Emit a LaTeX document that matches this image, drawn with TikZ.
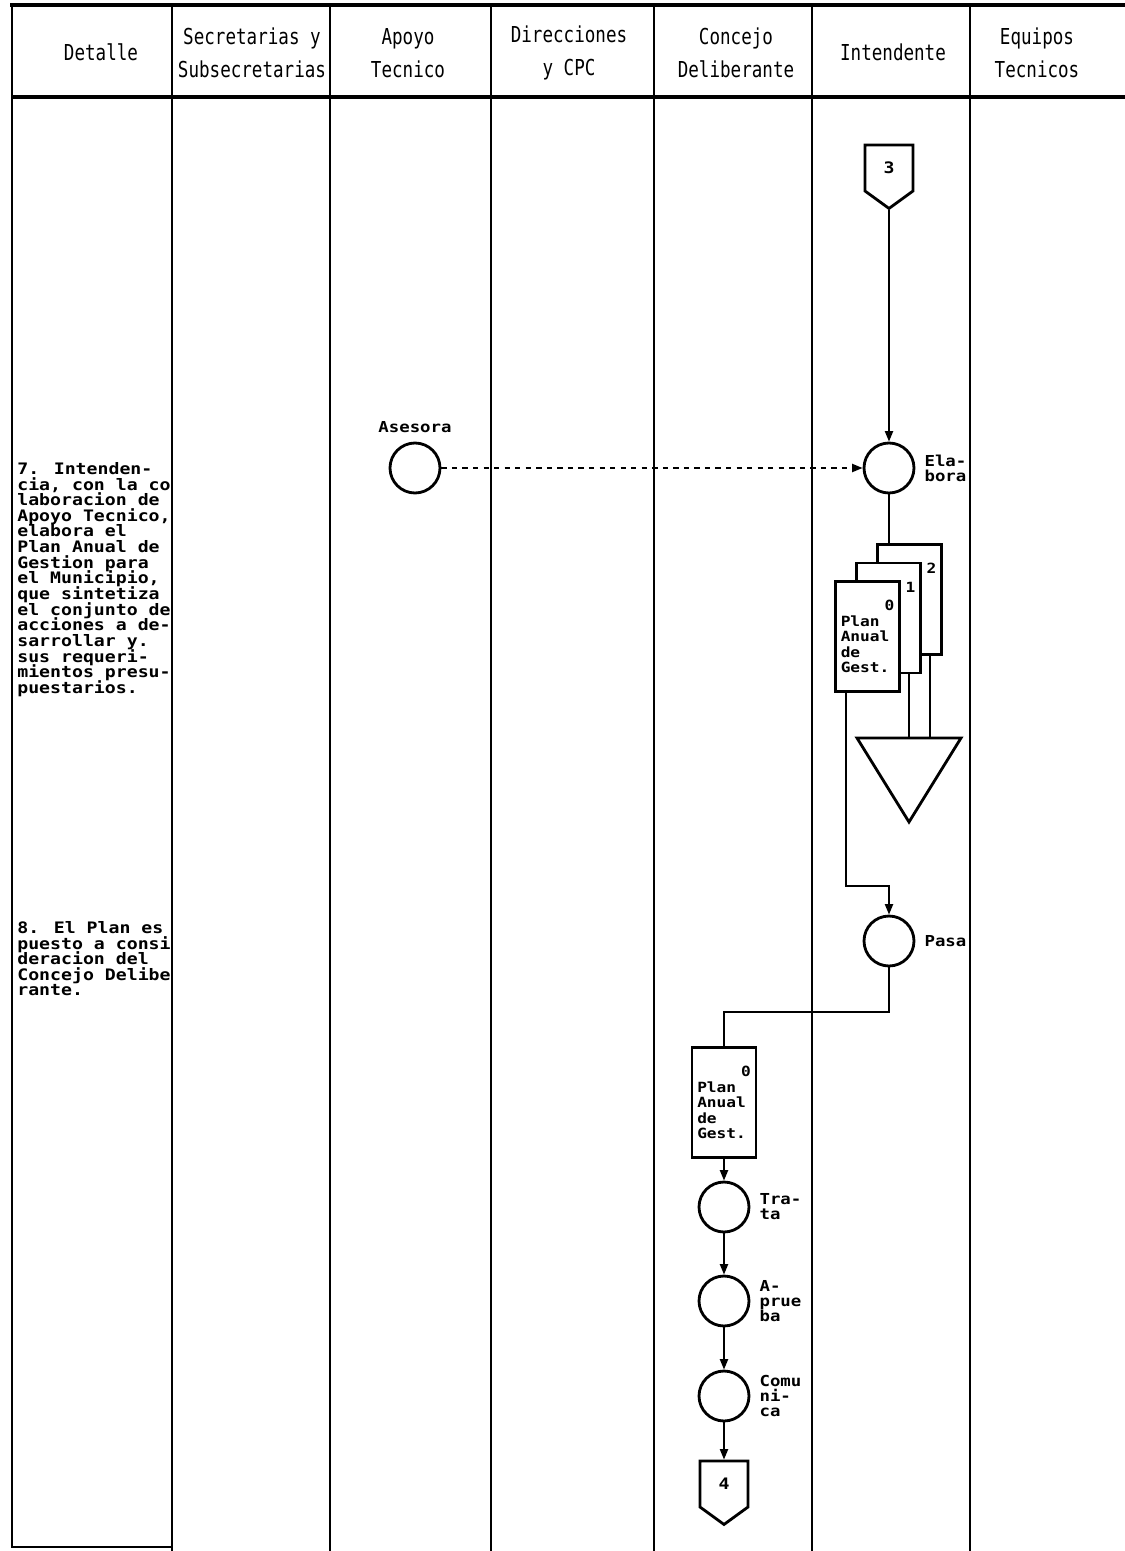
\documentclass[tikz,border=0pt]{standalone}
\usepackage{fontspec}
\usepackage{tikz}
\usetikzlibrary{
	arrows.meta,
	positioning,
	shapes.symbols
}
\newfontfamily\headfont[FakeStretch=0.8]{DejaVu Sans Mono}
\newfontfamily\boxfont[FakeStretch=1.15]{DejaVu Sans Mono}
\newcommand{\docnum}[1]{\hskip0pt plus1fill\relax#1}
\newcommand{\tightlines}{\lineskiplimit=-\maxdimen}

\tikzset{
	lane/.style={line width=1.1pt},
	headrule/.style={line width=1.8pt},
	head/.style={font=\headfont\fontsize{12.5}{19}\selectfont, align=center, inner sep=0pt},
	lbl/.style={font=\boxfont\bfseries\fontsize{8.6}{8.6}\selectfont\tightlines, align=left, inner sep=1pt},
	sidelbl/.style={lbl, xshift=4pt},
	detalle/.style={font=\boxfont\bfseries\fontsize{9}{8.9}\selectfont\tightlines, align=left, inner sep=0pt, anchor=north west},
	proc/.style={circle, draw, line width=1.6pt, minimum size=1.0cm, inner sep=0pt},
	docbox/.style={rectangle, draw, fill=white, line width=1.3pt, minimum height=2.2cm,
		text width=1.07cm, inner xsep=3pt, align=left,
		font=\boxfont\bfseries\fontsize{8}{8.8}\selectfont\tightlines},
	pagecon/.style={signal, signal to=south, signal from=nowhere, signal pointer angle=108, draw,
		line width=1.6pt, minimum width=0.96cm, minimum height=1.0cm, inner sep=0pt,
		font=\boxfont\bfseries\fontsize{9}{9}\selectfont},
	flow/.style={line width=1.1pt, >={Triangle[length=6pt,width=4.6pt]}}
}

\begin{document}
\begin{tikzpicture}[x=0.02cm, y=-0.02cm]
	\useasboundingbox (0,0) rectangle (1125,1551);

	% encabezado y carriles
	\draw[headrule] (10,5) -- (1125,5);
	\draw[headrule] (12,97) -- (1125,97);
	\draw[lane] (12,5) -- (12,1547) -- (172,1547);
	\foreach \x in {172,330,491,654,812,970}
		\draw[lane] (\x,5) -- (\x,1551);

	\node[head] (hDet) at (101,52) {Detalle};
	\node[head] (hSec) at (252,53) {Secretarias y\\Subsecretarias};
	\node[head] (hApo) at (408,53) {Apoyo\\Tecnico};
	\node[head] (hDir) at (569,53) {Direcciones\\y CPC};
	\node[head] (hCon) at (736,53) {Concejo\\Deliberante};
	\node[head] (hInt) at (893,52) {Intendente};
	\node[head] (hEqu) at (1037,53) {Equipos\\Tecnicos};

	% texto de detalle
	\node[detalle] (txtA) at (17,462) {7. Intenden-\\cia, con la co\\laboracion de\\Apoyo Tecnico,\\elabora el\\Plan Anual de\\Gestion para\\el Municipio,\\que sintetiza\\el conjunto de\\acciones a de-\\sarrollar y.\\sus requeri-\\mientos presu-\\puestarios.};
	\node[detalle] (txtB) at (17,921) {8. El Plan es\\puesto a consi\\deracion del\\Concejo Delibe\\rante.};

	% Intendente
	\node[pagecon] (conA) at (889,168) {3};
	\node[proc, label={[sidelbl]right:{Ela-\\bora}}] (elabora) at (889,468) {};
	\node[proc, label={[lbl, yshift=4pt]above:Asesora}] (asesora) at (415,468) {};

	\node[docbox] (docD) at (909.5,599.5) {\docnum{2}\\~\\~\\~\\~};
	\node[docbox] (docU) at (888.5,618) {\docnum{1}\\~\\~\\~\\~};
	\node[docbox] (docC) at (867.5,636.5) {\docnum{0}\\Plan\\Anual\\de\\Gest.};
	\coordinate (archivo) at (909,738);
	\draw[line width=1.6pt] (archivo) +(-52,0) -- +(52,0) -- +(0,84) -- cycle;

	\node[proc, label={[sidelbl]right:Pasa}] (pasa) at (889,941) {};

	% Concejo Deliberante
	\node[docbox] (docCD) at (724,1102.5) {\docnum{0}\\Plan\\Anual\\de\\Gest.};
	\node[proc, label={[sidelbl]right:{Tra-\\ta}}] (trata) at (724,1207) {};
	\node[proc, label={[sidelbl]right:{A-\\prue\\ba}}] (aprueba) at (724,1301) {};
	\node[proc, label={[sidelbl]right:{Comu\\ni-\\ca}}] (comunica) at (724,1396) {};
	\node[pagecon] (conB) at (724,1484) {4};

	% conexiones
	\draw[flow, ->] (conA.south) -- (elabora.north);
	\draw[flow, dashed, ->] (asesora.east) -- (elabora.west);
	\draw[flow] (elabora.south) -- (elabora.south |- docD.north);
	\draw[flow] ([xshift=0.41cm]docU.south) -- ([xshift=0.41cm]docU.south |- archivo);
	\draw[flow] ([xshift=0.41cm]docD.south) -- ([xshift=0.41cm]docD.south |- archivo);
	\draw[flow, ->] ([xshift=-0.43cm]docC.south) -- ++(0,193) -| (pasa.north);
	\draw[flow] (pasa.south) -- ++(0,45) -| (docCD.north);
	\draw[flow, ->] (docCD.south) -- (trata.north);
	\draw[flow, ->] (trata.south) -- (aprueba.north);
	\draw[flow, ->] (aprueba.south) -- (comunica.north);
	\draw[flow, ->] (comunica.south) -- (conB.north);
\end{tikzpicture}
\end{document}
